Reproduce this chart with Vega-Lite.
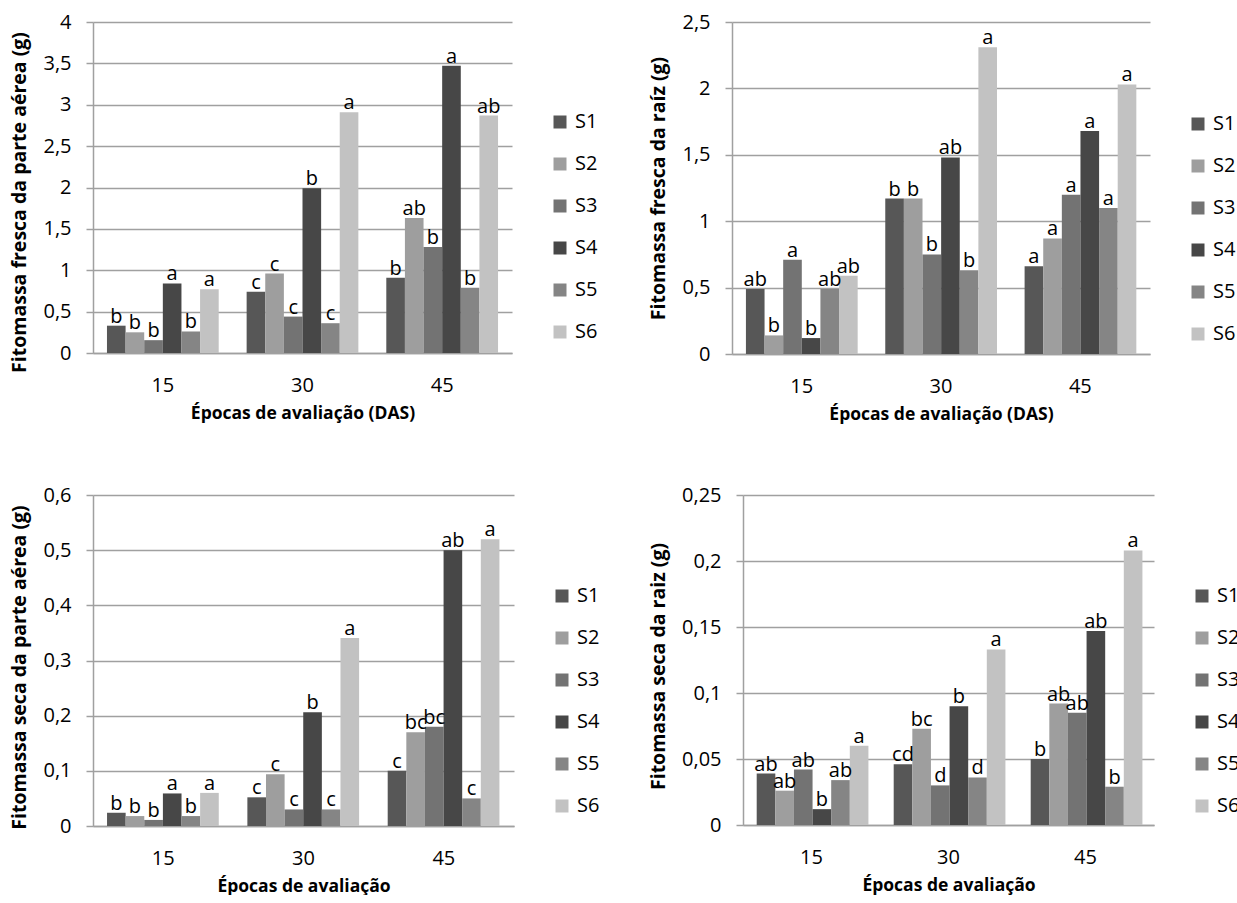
{
  "$schema": "https://vega.github.io/schema/vega-lite/v6.json",
  "padding": {"left": 9, "top": 12, "right": 0, "bottom": 0},
  "background": "white",
  "datasets": {
    "p1": [
      {"e": "15", "s": "S1", "v": 0.33, "l": "b"},
      {"e": "15", "s": "S2", "v": 0.25, "l": "b"},
      {"e": "15", "s": "S3", "v": 0.155, "l": "b"},
      {"e": "15", "s": "S4", "v": 0.84, "l": "a"},
      {"e": "15", "s": "S5", "v": 0.26, "l": "b"},
      {"e": "15", "s": "S6", "v": 0.77, "l": "a"},
      {"e": "30", "s": "S1", "v": 0.74, "l": "c"},
      {"e": "30", "s": "S2", "v": 0.96, "l": "c"},
      {"e": "30", "s": "S3", "v": 0.44, "l": "c"},
      {"e": "30", "s": "S4", "v": 1.99, "l": "b"},
      {"e": "30", "s": "S5", "v": 0.36, "l": "c"},
      {"e": "30", "s": "S6", "v": 2.91, "l": "a"},
      {"e": "45", "s": "S1", "v": 0.91, "l": "b"},
      {"e": "45", "s": "S2", "v": 1.63, "l": "ab"},
      {"e": "45", "s": "S3", "v": 1.28, "l": "b"},
      {"e": "45", "s": "S4", "v": 3.47, "l": "a"},
      {"e": "45", "s": "S5", "v": 0.79, "l": "b"},
      {"e": "45", "s": "S6", "v": 2.87, "l": "ab"}
    ],
    "p2": [
      {"e": "15", "s": "S1", "v": 0.49, "l": "ab"},
      {"e": "15", "s": "S2", "v": 0.14, "l": "b"},
      {"e": "15", "s": "S3", "v": 0.71, "l": "a"},
      {"e": "15", "s": "S4", "v": 0.12, "l": "b"},
      {"e": "15", "s": "S5", "v": 0.49, "l": "ab"},
      {"e": "15", "s": "S6", "v": 0.59, "l": "ab"},
      {"e": "30", "s": "S1", "v": 1.17, "l": "b"},
      {"e": "30", "s": "S2", "v": 1.17, "l": "b"},
      {"e": "30", "s": "S3", "v": 0.75, "l": "b"},
      {"e": "30", "s": "S4", "v": 1.48, "l": "ab"},
      {"e": "30", "s": "S5", "v": 0.63, "l": "b"},
      {"e": "30", "s": "S6", "v": 2.31, "l": "a"},
      {"e": "45", "s": "S1", "v": 0.66, "l": "a"},
      {"e": "45", "s": "S2", "v": 0.87, "l": "a"},
      {"e": "45", "s": "S3", "v": 1.2, "l": "a"},
      {"e": "45", "s": "S4", "v": 1.68, "l": "a"},
      {"e": "45", "s": "S5", "v": 1.1, "l": "a"},
      {"e": "45", "s": "S6", "v": 2.03, "l": "a"}
    ],
    "p3": [
      {"e": "15", "s": "S1", "v": 0.024, "l": "b"},
      {"e": "15", "s": "S2", "v": 0.018, "l": "b"},
      {"e": "15", "s": "S3", "v": 0.011, "l": "b"},
      {"e": "15", "s": "S4", "v": 0.059, "l": "a"},
      {"e": "15", "s": "S5", "v": 0.018, "l": "b"},
      {"e": "15", "s": "S6", "v": 0.06, "l": "a"},
      {"e": "30", "s": "S1", "v": 0.052, "l": "c"},
      {"e": "30", "s": "S2", "v": 0.094, "l": "c"},
      {"e": "30", "s": "S3", "v": 0.03, "l": "c"},
      {"e": "30", "s": "S4", "v": 0.206, "l": "b"},
      {"e": "30", "s": "S5", "v": 0.03, "l": "c"},
      {"e": "30", "s": "S6", "v": 0.341, "l": "a"},
      {"e": "45", "s": "S1", "v": 0.1, "l": "c"},
      {"e": "45", "s": "S2", "v": 0.17, "l": "bc"},
      {"e": "45", "s": "S3", "v": 0.18, "l": "bc"},
      {"e": "45", "s": "S4", "v": 0.5, "l": "ab"},
      {"e": "45", "s": "S5", "v": 0.05, "l": "c"},
      {"e": "45", "s": "S6", "v": 0.52, "l": "a"}
    ],
    "p4": [
      {"e": "15", "s": "S1", "v": 0.039, "l": "ab"},
      {"e": "15", "s": "S2", "v": 0.026, "l": "ab"},
      {"e": "15", "s": "S3", "v": 0.042, "l": "ab"},
      {"e": "15", "s": "S4", "v": 0.012, "l": "b"},
      {"e": "15", "s": "S5", "v": 0.034, "l": "ab"},
      {"e": "15", "s": "S6", "v": 0.06, "l": "a"},
      {"e": "30", "s": "S1", "v": 0.046, "l": "cd"},
      {"e": "30", "s": "S2", "v": 0.073, "l": "bc"},
      {"e": "30", "s": "S3", "v": 0.03, "l": "d"},
      {"e": "30", "s": "S4", "v": 0.09, "l": "b"},
      {"e": "30", "s": "S5", "v": 0.036, "l": "d"},
      {"e": "30", "s": "S6", "v": 0.133, "l": "a"},
      {"e": "45", "s": "S1", "v": 0.05, "l": "b"},
      {"e": "45", "s": "S2", "v": 0.092, "l": "ab"},
      {"e": "45", "s": "S3", "v": 0.085, "l": "ab"},
      {"e": "45", "s": "S4", "v": 0.147, "l": "ab"},
      {"e": "45", "s": "S5", "v": 0.029, "l": "b"},
      {"e": "45", "s": "S6", "v": 0.208, "l": "a"}
    ]
  },
  "vconcat": [
    {
      "hconcat": [
        {
          "width": 419, "height": 331,
          "data": {"name": "p1"},
          "encoding": {
            "x": {"field": "e", "type": "nominal", "sort": ["15", "30", "45"], "scale": {"paddingInner": 0.2, "paddingOuter": 0.1}, "axis": {"title": "Épocas de avaliação (DAS)"}},
            "xOffset": {"field": "s", "type": "nominal", "scale": {"paddingInner": 0, "paddingOuter": 0}},
            "y": {"field": "v", "type": "quantitative", "scale": {"domain": [0, 4], "nice": false}, "axis": {"title": "Fitomassa fresca da parte aérea (g)", "titleY": 180, "values": [0, 0.5, 1, 1.5, 2, 2.5, 3, 3.5, 4]}}
          },
          "layer": [
            {"mark": "bar", "encoding": {"color": {"field": "s", "type": "nominal", "scale": {"domain": ["S1", "S2", "S3", "S4", "S5", "S6"], "range": ["#575757", "#9e9e9e", "#737373", "#474747", "#858585", "#c2c2c2"]}, "legend": {"legendX": 457, "legendY": 90}}}},
            {"mark": {"type": "text", "baseline": "alphabetic", "dy": -3}, "encoding": {"text": {"field": "l"}}}
          ]
        },
        {
          "width": 418, "height": 332,
          "data": {"name": "p2"},
          "encoding": {
            "x": {"field": "e", "type": "nominal", "sort": ["15", "30", "45"], "scale": {"paddingInner": 0.2, "paddingOuter": 0.1}, "axis": {"title": "Épocas de avaliação (DAS)"}},
            "xOffset": {"field": "s", "type": "nominal", "scale": {"paddingInner": 0, "paddingOuter": 0}},
            "y": {"field": "v", "type": "quantitative", "scale": {"domain": [0, 2.5], "nice": false}, "axis": {"title": "Fitomassa fresca da raíz (g)", "values": [0, 0.5, 1, 1.5, 2, 2.5]}}
          },
          "layer": [
            {"mark": "bar", "encoding": {"color": {"field": "s", "type": "nominal", "scale": {"domain": ["S1", "S2", "S3", "S4", "S5", "S6"], "range": ["#575757", "#9e9e9e", "#737373", "#474747", "#858585", "#c2c2c2"]}, "legend": {"legendX": 456, "legendY": 92}}}},
            {"mark": {"type": "text", "baseline": "alphabetic", "dy": -3}, "encoding": {"text": {"field": "l"}}}
          ]
        }
      ],
      "spacing": 50,
      "resolve": {"scale": {"y": "independent", "color": "independent"}, "legend": {"color": "independent"}, "axis": {"y": "independent"}}
    },
    {
      "hconcat": [
        {
          "width": 421, "height": 331,
          "data": {"name": "p3"},
          "encoding": {
            "x": {"field": "e", "type": "nominal", "sort": ["15", "30", "45"], "scale": {"paddingInner": 0.2, "paddingOuter": 0.1}, "axis": {"title": "Épocas de avaliação"}},
            "xOffset": {"field": "s", "type": "nominal", "scale": {"paddingInner": 0, "paddingOuter": 0}},
            "y": {"field": "v", "type": "quantitative", "scale": {"domain": [0, 0.6], "nice": false}, "axis": {"title": "Fitomassa seca da parte aérea (g)", "titleY": 172, "values": [0, 0.1, 0.2, 0.3, 0.4, 0.5, 0.6]}}
          },
          "layer": [
            {"mark": "bar", "encoding": {"color": {"field": "s", "type": "nominal", "scale": {"domain": ["S1", "S2", "S3", "S4", "S5", "S6"], "range": ["#575757", "#9e9e9e", "#737373", "#474747", "#858585", "#c2c2c2"]}, "legend": {"legendX": 459, "legendY": 91}}}},
            {"mark": {"type": "text", "baseline": "alphabetic", "dy": -3}, "encoding": {"text": {"field": "l"}}}
          ]
        },
        {
          "width": 411, "height": 330,
          "data": {"name": "p4"},
          "encoding": {
            "x": {"field": "e", "type": "nominal", "sort": ["15", "30", "45"], "scale": {"paddingInner": 0.2, "paddingOuter": 0.1}, "axis": {"title": "Épocas de avaliação"}},
            "xOffset": {"field": "s", "type": "nominal", "scale": {"paddingInner": 0, "paddingOuter": 0}},
            "y": {"field": "v", "type": "quantitative", "scale": {"domain": [0, 0.25], "nice": false}, "axis": {"title": "Fitomassa seca da raiz (g)", "titleY": 171, "values": [0, 0.05, 0.1, 0.15, 0.2, 0.25]}}
          },
          "layer": [
            {"mark": "bar", "encoding": {"color": {"field": "s", "type": "nominal", "scale": {"domain": ["S1", "S2", "S3", "S4", "S5", "S6"], "range": ["#575757", "#9e9e9e", "#737373", "#474747", "#858585", "#c2c2c2"]}, "legend": {"legendX": 449, "legendY": 91}}}},
            {"mark": {"type": "text", "baseline": "alphabetic", "dy": -3}, "encoding": {"text": {"field": "l"}}}
          ]
        }
      ],
      "spacing": 48,
      "resolve": {"scale": {"y": "independent", "color": "independent"}, "legend": {"color": "independent"}, "axis": {"y": "independent"}}
    }
  ],
  "spacing": 62,
  "resolve": {"scale": {"y": "independent", "color": "independent"}, "legend": {"color": "independent"}, "axis": {"y": "independent"}},
  "config": {
    "font": "Open Sans",
    "view": {"stroke": null},
    "text": {"font": "Open Sans", "fontSize": 20, "color": "#000000"},
    "axis": {
      "labelFont": "Open Sans", "labelFontSize": 20, "labelColor": "#000000",
      "titleFont": "Open Sans", "titleFontWeight": "bold", "titleColor": "#000000",
      "domainColor": "#a0a0a0", "domainWidth": 1.5,
      "gridColor": "#a0a0a0", "gridWidth": 1.5,
      "tickColor": "#a0a0a0", "tickWidth": 1.5
    },
    "axisX": {"labelAngle": 0, "ticks": false, "grid": false, "labelPadding": 22, "titlePadding": 9, "titleFontSize": 17.5},
    "axisY": {"grid": true, "ticks": true, "tickSize": 7, "labelPadding": 15, "titlePadding": 13, "titleFontSize": 19.5, "labelExpr": "replace(format(datum.value, '~g'), '.', ',')"},
    "legend": {
      "orient": "none", "title": null, "symbolType": "square", "symbolSize": 169, "symbolStrokeWidth": 0,
      "labelFont": "Open Sans", "labelFontSize": 20, "labelColor": "#000000", "labelOffset": 5, "rowPadding": 22
    }
  }
}
